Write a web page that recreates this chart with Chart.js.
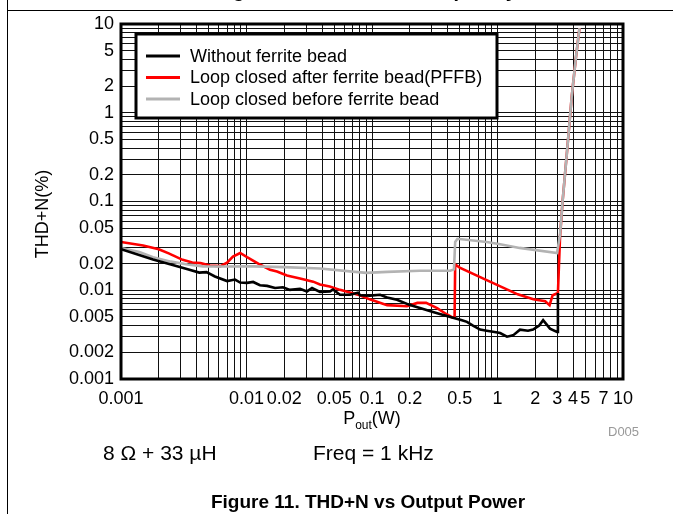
<!DOCTYPE html>
<html>
<head>
<meta charset="utf-8">
<script src="https://cdn.jsdelivr.net/npm/chart.js@4.4.1/dist/chart.umd.min.js"></script>
<style>
body { margin: 0; background: #fff; }
#wrap { position: relative; width: 673px; height: 514px; overflow: hidden; background: #fff;
  font-family: "Liberation Sans", Arial, sans-serif; color: #000; }
#chart { position: absolute; left: 0; top: 0; }
.txt { position: absolute; white-space: nowrap; }
</style>
</head>
<body>
<div id="wrap">
  <canvas id="chart" width="673" height="514"></canvas>
  <div class="txt" style="left:7px;top:0;width:1px;height:514px;background:#000"></div>
  <div class="txt" style="left:7px;top:10px;width:666px;height:1px;background:#000"></div>
  <div class="txt" style="left:215px;top:-22px;font-size:20px;line-height:24px;font-weight:bold">Figure 10. THD+N vs Frequency</div>
  <div class="txt" style="left:-8px;top:202px;width:100px;text-align:center;font-size:18px;line-height:24px;transform:rotate(-90deg)">THD+N(%)</div>
  <div class="txt" style="left:300px;top:407px;width:144px;text-align:center;font-size:18px;line-height:22px">P<span style="font-size:12px;position:relative;top:5px">out</span>(W)</div>
  <div class="txt" style="left:608px;top:424px;font-size:13px;line-height:16px;color:#999">D005</div>
  <div class="txt" style="left:103px;top:441px;font-size:21px;line-height:24px">8 &Omega; + 33 &micro;H</div>
  <div class="txt" style="left:313px;top:441px;font-size:21px;line-height:24px">Freq = 1 kHz</div>
  <div class="txt" style="left:168px;top:490px;width:400px;text-align:center;font-size:19px;line-height:24px;font-weight:bold">Figure 11. THD+N vs Output Power</div>
</div>
<script>
var SERIES_NAMES = ['Without ferrite bead', 'Loop closed after ferrite bead(PFFB)', 'Loop closed before ferrite bead'];
var SERIES_COLORS = ['#000000', '#ff0000', '#b3b3b3'];

var X_TICK_LABELS = [0.001, 0.01, 0.02, 0.05, 0.1, 0.2, 0.5, 1, 2, 3, 4, 5, 7, 10];
var Y_TICK_LABELS = [0.001, 0.002, 0.005, 0.01, 0.02, 0.05, 0.1, 0.2, 0.5, 1, 2, 5, 10];

// Without ferrite bead
var P_BLACK = [0.001, 0.0013, 0.0018, 0.0025, 0.0034, 0.0042, 0.0048, 0.0056, 0.007, 0.0081, 0.0089, 0.0101, 0.0113, 0.0128, 0.0146, 0.0169, 0.0195, 0.0222, 0.0267, 0.0303, 0.0333, 0.0385, 0.0463, 0.0489, 0.0556, 0.0668, 0.0773, 0.0802, 0.0964, 0.116, 0.132, 0.158, 0.201, 0.241, 0.306, 0.382, 0.442, 0.521, 0.571, 0.638, 0.726, 0.82, 0.921, 1.05, 1.19, 1.33, 1.51, 1.75, 1.92, 2.15, 2.31, 2.62, 2.98, 3.03];
var THD_BLACK = [0.029, 0.0258, 0.0222, 0.0195, 0.0172, 0.0158, 0.016, 0.0143, 0.0127, 0.0132, 0.0122, 0.0121, 0.0124, 0.0114, 0.0112, 0.0106, 0.0108, 0.0101, 0.0104, 0.0097, 0.0106, 0.0096, 0.0097, 0.0102, 0.0089, 0.0089, 0.0094, 0.0088, 0.0087, 0.0089, 0.0083, 0.0078, 0.0068, 0.0063, 0.0057, 0.0052, 0.0049, 0.0046, 0.0044, 0.004, 0.0036, 0.0035, 0.0034, 0.0033, 0.003, 0.0031, 0.0036, 0.0035, 0.0036, 0.004, 0.0046, 0.0037, 0.0034, 0.0093];

// Loop closed after ferrite bead (PFFB)
var P_RED = [0.001, 0.0015, 0.002, 0.0024, 0.0031, 0.0037, 0.0043, 0.0051, 0.0062, 0.007, 0.0078, 0.0089, 0.0101, 0.0128, 0.0154, 0.0175, 0.021, 0.0267, 0.034, 0.0385, 0.046, 0.0556, 0.08, 0.096, 0.132, 0.19, 0.23, 0.27, 0.33, 0.39, 0.44, 0.455, 0.46, 0.5, 0.82, 1.45, 1.93, 2.4, 2.6, 2.75, 3.03, 3.15, 3.3, 3.6, 3.9, 4.2, 4.5];
var THD_RED = [0.035, 0.032, 0.029, 0.026, 0.022, 0.0205, 0.0202, 0.019, 0.0187, 0.0205, 0.024, 0.0263, 0.0236, 0.0195, 0.017, 0.0163, 0.0147, 0.0136, 0.0125, 0.0116, 0.011, 0.0101, 0.0088, 0.0079, 0.0068, 0.0066, 0.0072, 0.0072, 0.0063, 0.0054, 0.0049, 0.0049, 0.0195, 0.018, 0.013, 0.009, 0.0079, 0.0075, 0.0068, 0.0088, 0.0093, 0.04, 0.1, 0.4, 1.5, 4, 9];

// Loop closed before ferrite bead
var P_GRAY = [0.001, 0.0014, 0.0018, 0.0025, 0.0034, 0.0045, 0.007, 0.0113, 0.02, 0.0385, 0.07, 0.09, 0.132, 0.241, 0.42, 0.45, 0.46, 0.48, 0.82, 1.05, 1.5, 2.98, 3.15, 3.3, 3.6, 3.9, 4.2, 4.5];
var THD_GRAY = [0.03, 0.027, 0.0235, 0.021, 0.0195, 0.0186, 0.0185, 0.0186, 0.0182, 0.0176, 0.0162, 0.0157, 0.0161, 0.0166, 0.0166, 0.0172, 0.035, 0.038, 0.035, 0.033, 0.03, 0.0263, 0.042, 0.1, 0.4, 1.5, 4, 9];

function pairs(xs, ys) {
  return xs.map(function(x, i) { return {x: x, y: ys[i]}; });
}

function logGrid(min, max) {
  var out = [];
  for (var e = Math.round(Math.log10(min)); Math.pow(10, e) < max; e++) {
    for (var m = 1; m < 10; m++) out.push(parseFloat((m * Math.pow(10, e)).toPrecision(6)));
  }
  out.push(max);
  return out;
}

function labelFor(list, v) {
  for (var i = 0; i < list.length; i++) {
    if (Math.abs(list[i] / v - 1) < 1e-6) return String(list[i]);
  }
  return '';
}

var frameAndLegend = {
  id: 'frameAndLegend',
  afterDraw: function(chart) {
    var c = chart.ctx, a = chart.chartArea;
    c.save();
    c.lineWidth = 3;
    c.strokeStyle = '#000';
    c.strokeRect(a.left, a.top, a.right - a.left, a.bottom - a.top);

    // legend box inside the plot
    var bx = a.left + 15, by = a.top + 10, bw = 361, bh = 84;
    c.fillStyle = '#fff';
    c.fillRect(bx, by, bw, bh);
    c.strokeRect(bx, by, bw, bh);
    c.font = '18px "Liberation Sans", Arial, sans-serif';
    c.textBaseline = 'middle';
    chart.data.datasets.forEach(function(ds, i) {
      var y = by + 22 + i * 21.5;
      c.beginPath();
      c.lineWidth = 3;
      c.strokeStyle = ds.borderColor;
      c.moveTo(bx + 10, y);
      c.lineTo(bx + 44, y);
      c.stroke();
      c.fillStyle = '#000';
      c.fillText(ds.label, bx + 54, y + 1);
    });
    c.restore();
  }
};

var ctx = document.getElementById('chart');
var chart = new Chart(ctx, {
  type: 'line',
  data: {
    datasets: [
      { label: SERIES_NAMES[0], data: pairs(P_BLACK, THD_BLACK), borderColor: SERIES_COLORS[0], order: 0 },
      { label: SERIES_NAMES[1], data: pairs(P_RED, THD_RED), borderColor: SERIES_COLORS[1], order: 2 },
      { label: SERIES_NAMES[2], data: pairs(P_GRAY, THD_GRAY), borderColor: SERIES_COLORS[2], order: 1 }
    ]
  },
  options: {
    responsive: false,
    animation: false,
    layout: { padding: { top: 24, right: 50, left: 0, bottom: 0 } },
    elements: {
      line: { borderWidth: 2.6, tension: 0, fill: false },
      point: { radius: 0 }
    },
    plugins: { legend: { display: false }, tooltip: { enabled: false } },
    scales: {
      x: {
        type: 'logarithmic',
        min: 0.001,
        max: 10,
        afterBuildTicks: function(axis) {
          axis.ticks = logGrid(0.001, 10).map(function(v) { return {value: v}; });
        },
        afterFit: function(axis) { axis.height = 135; },
        border: { display: false },
        grid: { color: '#111', lineWidth: 1, drawTicks: false },
        ticks: {
          autoSkip: false,
          maxRotation: 0,
          padding: 9,
          color: '#000',
          font: { family: '"Liberation Sans", Arial, sans-serif', size: 18 },
          callback: function(v) { return labelFor(X_TICK_LABELS, v); }
        }
      },
      y: {
        type: 'logarithmic',
        min: 0.001,
        max: 10,
        afterBuildTicks: function(axis) {
          axis.ticks = logGrid(0.001, 10).map(function(v) { return {value: v}; });
        },
        afterFit: function(axis) { axis.width = 121; },
        border: { display: false },
        grid: { color: '#111', lineWidth: 1, drawTicks: false },
        ticks: {
          autoSkip: false,
          padding: 7,
          color: '#000',
          font: { family: '"Liberation Sans", Arial, sans-serif', size: 18 },
          callback: function(v) { return labelFor(Y_TICK_LABELS, v); }
        }
      }
    }
  },
  plugins: [frameAndLegend]
});
</script>
</body>
</html>
